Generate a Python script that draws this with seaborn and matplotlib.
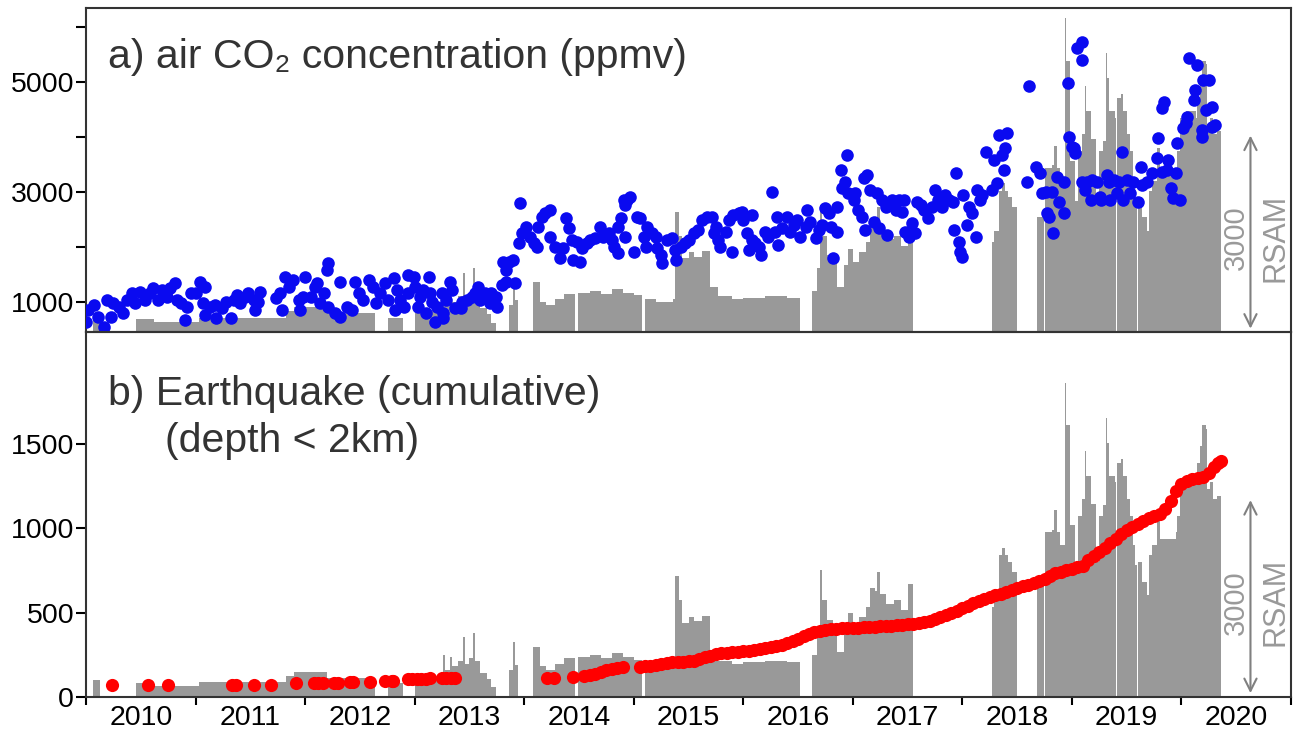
"""
Two-panel time series: air CO2 concentration and cumulative shallow
earthquakes, each drawn over the RSAM record (grey).
"""

import numpy as np
import matplotlib
matplotlib.use("Agg")
import matplotlib.pyplot as plt
import seaborn as sns

# ── Data ─────────────────────────────────────────────────
co2_year = [
    2010.00, 2010.02, 2010.07, 2010.11, 2010.16, 2010.19, 2010.23, 2010.25, 2010.30, 2010.34,
    2010.37, 2010.42, 2010.45, 2010.49, 2010.54, 2010.58, 2010.61, 2010.66, 2010.69, 2010.74,
    2010.77, 2010.81, 2010.83, 2010.87, 2010.90, 2010.92, 2010.96, 2011.00, 2011.04, 2011.09,
    2011.07, 2011.09, 2011.13, 2011.18, 2011.19, 2011.24, 2011.28, 2011.32, 2011.35, 2011.38,
    2011.41, 2011.45, 2011.48, 2011.53, 2011.54, 2011.59, 2011.57, 2011.73, 2011.77, 2011.79,
    2011.82, 2011.85, 2011.89, 2011.94, 2011.95, 2011.98, 2012.00, 2012.05, 2012.09, 2012.11,
    2012.14, 2012.17, 2012.21, 2012.20, 2012.21, 2012.27, 2012.32, 2012.32, 2012.38, 2012.43,
    2012.46, 2012.49, 2012.53, 2012.58, 2012.62, 2012.65, 2012.68, 2012.73, 2012.76, 2012.81,
    2012.82, 2012.84, 2012.87, 2012.90, 2012.94, 2012.94, 2012.99, 2013.00, 2013.05, 2013.03,
    2013.08, 2013.10, 2013.13, 2013.14, 2013.16, 2013.19, 2013.20, 2013.25, 2013.26, 2013.26,
    2013.29, 2013.32, 2013.34, 2013.37, 2013.42, 2013.43, 2013.48, 2013.52, 2013.55, 2013.58,
    2013.60, 2013.64, 2013.67, 2013.69, 2013.70, 2013.74, 2013.75, 2013.80, 2013.83, 2013.81,
    2013.86, 2013.90, 2013.92, 2013.83, 2013.96, 2013.95, 2013.98, 2014.02, 2014.05, 2014.09,
    2014.12, 2014.13, 2014.16, 2014.19, 2014.24, 2014.24, 2014.28, 2014.33, 2014.35, 2014.38,
    2014.41, 2014.44, 2014.45, 2014.48, 2014.51, 2014.53, 2014.57, 2014.60, 2014.65, 2014.69,
    2014.72, 2014.77, 2014.80, 2014.82, 2014.86, 2014.88, 2014.86, 2014.91, 2014.92, 2014.94,
    2014.97, 2014.92, 2015.00, 2015.03, 2015.06, 2015.09, 2015.11, 2015.12, 2015.17, 2015.20,
    2015.21, 2015.25, 2015.26, 2015.30, 2015.35, 2015.38, 2015.39, 2015.43, 2015.47, 2015.50,
    2015.55, 2015.59, 2015.62, 2015.67, 2015.71, 2015.75, 2015.73, 2015.77, 2015.79, 2015.84,
    2015.87, 2015.90, 2015.91, 2015.96, 2015.99, 2016.00, 2016.03, 2016.05, 2016.08, 2016.08,
    2016.11, 2016.14, 2016.16, 2016.20, 2016.23, 2016.26, 2016.29, 2016.31, 2016.32, 2016.35,
    2016.40, 2016.43, 2016.46, 2016.49, 2016.52, 2016.57, 2016.58, 2016.61, 2016.66, 2016.69,
    2016.72, 2016.75, 2016.78, 2016.80, 2016.82, 2016.86, 2016.86, 2016.89, 2016.90, 2016.93,
    2016.95, 2016.96, 2017.01, 2017.02, 2017.05, 2017.08, 2017.10, 2017.13, 2017.11, 2017.16,
    2017.19, 2017.22, 2017.24, 2017.27, 2017.30, 2017.31, 2017.36, 2017.39, 2017.42, 2017.45,
    2017.47, 2017.48, 2017.51, 2017.54, 2017.57, 2017.59, 2017.62, 2017.65, 2017.69, 2017.72,
    2017.75, 2017.78, 2017.81, 2017.84, 2017.88, 2017.91, 2017.92, 2017.94, 2017.97, 2017.98,
    2018.00, 2018.01, 2018.04, 2018.06, 2018.09, 2018.12, 2018.13, 2018.16, 2018.18, 2018.22,
    2018.27, 2018.29, 2018.32, 2018.33, 2018.36, 2018.38, 2018.39, 2018.41, 2018.61, 2018.59,
    2018.67, 2018.71, 2018.76, 2018.73, 2018.82, 2018.77, 2018.79, 2018.83, 2018.86, 2018.88,
    2018.93, 2018.93, 2018.96, 2018.97, 2019.00, 2019.03, 2019.02, 2019.05, 2019.09, 2019.09,
    2019.09, 2019.14, 2019.12, 2019.17, 2019.18, 2019.23, 2019.26, 2019.27, 2019.32, 2019.34,
    2019.35, 2019.38, 2019.41, 2019.43, 2019.46, 2019.47, 2019.50, 2019.53, 2019.56, 2019.60,
    2019.63, 2019.64, 2019.69, 2019.73, 2019.78, 2019.79, 2019.82, 2019.84, 2019.82, 2019.87,
    2019.88, 2019.90, 2019.92, 2019.95, 2019.96, 2019.99, 2020.01, 2020.04, 2020.05, 2020.07,
    2020.11, 2020.12, 2020.14, 2020.19, 2020.19, 2020.20, 2020.22, 2020.25, 2020.28, 2020.28,
    2020.31,
]
co2_ppmv = [
    642, 855, 945, 733, 552, 1036, 733, 976, 915, 794,
    1036, 1158, 976, 1188, 1036, 1158, 1248, 1036, 1218, 1097,
    1248, 1339, 1036, 976, 673, 915, 1158, 1158, 1370, 1279,
    976, 764, 915, 945, 703, 885, 1006, 703, 1036, 1127,
    976, 1097, 1158, 1036, 855, 1188, 1006, 1067, 1158, 855,
    1460, 1279, 1400, 1036, 855, 1097, 1460, 1097, 1279, 1339,
    976, 1158, 1703, 1582, 915, 794, 1370, 733, 915, 855,
    1370, 1158, 1036, 1400, 1279, 976, 1158, 1339, 1036, 1430,
    855, 1218, 1036, 915, 1158, 1491, 1460, 1279, 1097, 915,
    1218, 794, 1460, 1158, 1006, 642, 915, 1158, 794, 703,
    1036, 1370, 1218, 885, 885, 1006, 1036, 1097, 1158, 1279,
    1036, 1158, 1097, 976, 1158, 1097, 915, 1309, 1370, 1733,
    1733, 1764, 1339, 1582, 2794, 2067, 2248, 2370, 2188, 2067,
    2006, 2370, 2551, 2612, 2673, 2188, 2006, 1794, 1976, 2521,
    2339, 2127, 1764, 2097, 1733, 1976, 2067, 2127, 2158, 2370,
    2188, 2248, 2127, 2006, 1885, 2521, 2370, 2854, 2764, 2854,
    2915, 2188, 1915, 2551, 2521, 2188, 2006, 2370, 2248, 2188,
    1976, 1855, 1703, 2127, 2158, 1945, 1764, 2006, 2067, 2127,
    2248, 2309, 2491, 2551, 2551, 2370, 2248, 2127, 2006, 2279,
    2491, 1915, 2582, 2612, 2642, 2491, 2248, 1945, 2582, 2127,
    2067, 2006, 1855, 2279, 2188, 3006, 2279, 2551, 2036, 2339,
    2551, 2279, 2400, 2491, 2188, 2370, 2673, 2461, 2158, 2309,
    2400, 2703, 2612, 2370, 1794, 2279, 2733, 3400, 3067, 3188,
    3672, 2976, 2854, 2976, 2673, 2551, 3248, 3309, 2309, 3036,
    2461, 2976, 2339, 2854, 2733, 2218, 2854, 2673, 2854, 2642,
    2854, 2279, 2188, 2430, 2248, 2824, 2764, 2673, 2521, 2733,
    3036, 2854, 2733, 2945, 2854, 2824, 2309, 3339, 2097, 1915,
    1824, 2945, 2400, 2733, 2612, 2188, 3036, 2854, 2945, 3733,
    3036, 3582, 3158, 4036, 3672, 3400, 3794, 4067, 4927, 3188,
    3460, 3339, 3006, 2976, 3006, 2612, 2551, 2248, 3279, 2824,
    2612, 3188, 4975, 4006, 3824, 3703, 3794, 5612, 5733, 5400,
    3188, 3188, 3036, 2854, 3218, 3188, 2915, 2854, 3309, 3188,
    2854, 3218, 2976, 3188, 3733, 2854, 3218, 2976, 3188, 2824,
    3460, 3127, 3188, 3339, 3612, 3976, 4521, 4642, 3370, 3400,
    3582, 3067, 2885, 3339, 3885, 2854, 4158, 4248, 4370, 5430,
    4672, 4854, 5309, 4127, 4006, 5036, 4491, 5036, 4551, 4188,
    4218,
]

quake_year = [
    2010.24, 2010.57, 2010.75, 2011.33, 2011.37, 2011.53, 2011.69, 2011.92, 2012.08, 2012.12,
    2012.16, 2012.26, 2012.30, 2012.41, 2012.44, 2012.59, 2012.73, 2012.79, 2012.80, 2012.94,
    2012.98, 2013.02, 2013.06, 2013.10, 2013.14, 2013.25, 2013.29, 2013.33, 2013.37, 2014.21,
    2014.27, 2014.45, 2014.55, 2014.60, 2014.65, 2014.70, 2014.75, 2014.80, 2014.85, 2014.90,
    2015.06, 2015.10, 2015.15, 2015.20, 2015.25, 2015.30, 2015.35, 2015.40, 2015.45, 2015.50,
    2015.55, 2015.60, 2015.65, 2015.70, 2015.75, 2015.80, 2015.85, 2015.90, 2015.95, 2016.00,
    2016.05, 2016.10, 2016.15, 2016.20, 2016.25, 2016.30, 2016.35, 2016.40, 2016.45, 2016.50,
    2016.55, 2016.60, 2016.65, 2016.70, 2016.75, 2016.80, 2016.85, 2016.90, 2016.95, 2017.00,
    2017.05, 2017.10, 2017.15, 2017.20, 2017.25, 2017.30, 2017.35, 2017.40, 2017.45, 2017.50,
    2017.55, 2017.60, 2017.65, 2017.70, 2017.75, 2017.80, 2017.85, 2017.90, 2017.95, 2018.00,
    2018.05, 2018.10, 2018.15, 2018.20, 2018.25, 2018.30, 2018.35, 2018.40, 2018.45, 2018.50,
    2018.55, 2018.60, 2018.65, 2018.70, 2018.75, 2018.80, 2018.85, 2018.90, 2018.95, 2019.00,
    2019.05, 2019.10, 2019.15, 2019.20, 2019.25, 2019.30, 2019.35, 2019.40, 2019.45, 2019.50,
    2019.55, 2019.60, 2019.65, 2019.70, 2019.75, 2019.80, 2019.85, 2019.90, 2019.95, 2020.00,
    2020.05, 2020.10, 2020.15, 2020.20, 2020.25, 2020.30, 2020.33, 2020.36,
]
quake_count = [
    71, 71, 71, 71, 71, 71, 71, 81, 81, 81,
    81, 81, 81, 91, 91, 91, 95, 97, 97, 105,
    107, 107, 109, 109, 111, 111, 111, 111, 111, 111,
    111, 117, 127, 130, 137, 150, 162, 168, 174, 177,
    180, 183, 186, 192, 197, 203, 206, 207, 208, 213,
    216, 225, 236, 245, 252, 258, 262, 266, 269, 272,
    275, 278, 283, 288, 294, 302, 310, 320, 332, 345,
    360, 375, 385, 392, 398, 402, 405, 406, 407, 408,
    410, 412, 413, 415, 418, 420, 422, 425, 428, 430,
    433, 437, 443, 450, 460, 472, 485, 498, 510, 525,
    540, 556, 570, 583, 595, 604, 613, 622, 634, 646,
    656, 666, 676, 688, 702, 718, 732, 742, 752, 760,
    768, 778, 810, 838, 862, 885, 910, 938, 965, 990,
    1010, 1028, 1045, 1058, 1072, 1085, 1112, 1160, 1220, 1260,
    1280, 1290, 1298, 1305, 1325, 1362, 1385, 1397,
]

# RSAM record, each value holds until the next time stamp (0 = no data)
rsam_year = [
    2010.00, 2010.06, 2010.13, 2010.46, 2010.62, 2011.03, 2011.83, 2011.90, 2012.20, 2012.64,
    2012.76, 2012.89, 2013.00, 2013.15, 2013.24, 2013.26, 2013.28, 2013.32, 2013.34, 2013.40,
    2013.44, 2013.46, 2013.50, 2013.53, 2013.55, 2013.60, 2013.66, 2013.70, 2013.74, 2013.86,
    2013.90, 2013.92, 2013.94, 2014.08, 2014.14, 2014.20, 2014.28, 2014.36, 2014.46, 2014.49,
    2014.60, 2014.70, 2014.80, 2014.90, 2015.00, 2015.08, 2015.10, 2015.20, 2015.36, 2015.38,
    2015.41, 2015.44, 2015.50, 2015.55, 2015.62, 2015.70, 2015.77, 2015.90, 2016.00, 2016.20,
    2016.40, 2016.52, 2016.63, 2016.67, 2016.70, 2016.72, 2016.76, 2016.82, 2016.86, 2016.92,
    2016.96, 2017.00, 2017.06, 2017.12, 2017.16, 2017.20, 2017.22, 2017.25, 2017.30, 2017.38,
    2017.44, 2017.50, 2017.55, 2018.27, 2018.29, 2018.33, 2018.36, 2018.39, 2018.42, 2018.45,
    2018.50, 2018.68, 2018.745, 2018.755, 2018.82, 2018.84, 2018.86, 2018.89, 2018.935, 2018.95,
    2018.98, 2019.03, 2019.06, 2019.09, 2019.12, 2019.13, 2019.17, 2019.22, 2019.25, 2019.28,
    2019.31, 2019.32, 2019.34, 2019.39, 2019.40, 2019.41, 2019.45, 2019.47, 2019.50, 2019.53,
    2019.56, 2019.58, 2019.59, 2019.60, 2019.64, 2019.69, 2019.70, 2019.73, 2019.78, 2019.80,
    2019.95, 2019.96, 2019.99, 2020.04, 2020.13, 2020.14, 2020.17, 2020.19, 2020.22, 2020.23,
    2020.26, 2020.29, 2020.32, 2020.36,
]
rsam_value = [
    0, 264, 0, 210, 170, 230, 330, 390, 300, 0,
    220, 0, 300, 330, 380, 660, 420, 620, 480, 560,
    930, 520, 600, 1000, 560, 380, 280, 150, 0, 420,
    850, 500, 0, 780, 480, 420, 520, 600, 0, 620,
    650, 600, 680, 620, 580, 0, 520, 480, 520, 1880,
    1500, 1150, 1250, 1180, 1260, 700, 560, 520, 540, 560,
    540, 0, 650, 1000, 1980, 1500, 1200, 1100, 700, 1050,
    1300, 1100, 1250, 1400, 1700, 1650, 1950, 1600, 1450, 1500,
    1350, 1750, 0, 1400, 1580, 2200, 2320, 2200, 2100, 1950,
    0, 1790, 0, 2560, 2600, 2900, 2560, 2360, 4880, 4220,
    2670, 2050, 2820, 3080, 3830, 3440, 3000, 2100, 2820, 2980,
    4340, 3950, 3440, 3340, 0, 3640, 3700, 3440, 3080, 2820,
    2360, 2050, 0, 2100, 1790, 1580, 2200, 2360, 2870, 2460,
    2560, 2820, 3340, 3440, 3340, 3640, 3900, 4220, 4170, 3240,
    3340, 3080, 3130, 0,
]

co2_ticks = [1000, 2000, 3000, 4000, 5000, 6000]
co2_ticklabels = ["1000", "", "3000", "", "5000", ""]
quake_ticks = [0, 500, 1000, 1500]
year_edges = list(range(2010, 2022))
year_labels = [str(y) for y in range(2010, 2021)]

# ── Style ────────────────────────────────────────────────
sns.set_style("white")
plt.rcParams["font.family"] = ["Liberation Sans", "DejaVu Sans"]

GREY = "#999999"
BLUE = "#0a0af0"
RED = "#ff0000"
INK = "#333333"
TXT = 29.5
TICK = 20.5

fig = plt.figure(figsize=(12.95, 7.35), dpi=100)
left, width = 86 / 1295, 1205 / 1295
ax1 = fig.add_axes([left, 1 - 332.5 / 735, width, 324.5 / 735])
ax2 = fig.add_axes([left, 1 - 697 / 735, width, 364.5 / 735])


def rsam_layer(ax, top):
    tw = ax.twinx()
    tw.fill_between(rsam_year, rsam_value, step="post", color=GREY, lw=0)
    tw.set_ylim(0, top)
    tw.axis("off")
    tw.annotate("", xy=(2020.63, 3060), xytext=(2020.63, 60),
                arrowprops=dict(arrowstyle="<->", color="#808080", lw=1.5,
                                mutation_scale=22, shrinkA=0, shrinkB=0))
    tw.text(2020.50, 1470, "3000", rotation=90, ha="center", va="center",
            fontsize=21, color=GREY)
    tw.text(2020.86, 1470, "RSAM", rotation=90, ha="center", va="center",
            fontsize=22, color=GREY)
    ax.set_zorder(tw.get_zorder() + 1)
    ax.patch.set_visible(False)
    return tw


for ax in (ax1, ax2):
    for sp in ax.spines.values():
        sp.set_color(INK)
        sp.set_linewidth(1.5)
    ax.set_xlim(2010, 2021)

# ── a) CO2 ───────────────────────────────────────────────
rsam_layer(ax1, 324.5 * 15.54)
sns.scatterplot(x=co2_year, y=co2_ppmv, ax=ax1, color=BLUE, s=82,
                linewidth=0, zorder=3)
ax1.set_ylim(445, 6345)
ax1.set_xticks([])
ax1.set_yticks(co2_ticks)
ax1.set_yticklabels(co2_ticklabels)
ax1.tick_params(axis="y", left=True, length=7, width=1.5, color="black",
                pad=1.5, labelsize=TICK, labelcolor="black")
ax1.text(0.0183, 0.815, "a) air CO₂ concentration (ppmv)", transform=ax1.transAxes,
         fontsize=TXT, color=INK, va="baseline")

# ── b) Earthquakes ───────────────────────────────────────
rsam_layer(ax2, 364.5 * 15.54)
sns.scatterplot(x=quake_year, y=quake_count, ax=ax2, color=RED, s=90,
                linewidth=0, zorder=3)
ax2.set_ylim(0, 2160)
ax2.set_yticks(quake_ticks)
ax2.tick_params(axis="y", left=True, length=7, width=1.5, color="black",
                pad=1.5, labelsize=TICK, labelcolor="black")
ax2.set_xticks(year_edges)
ax2.set_xticklabels([""] * len(year_edges))
ax2.set_xticks([y + 0.5 for y in range(2010, 2021)], minor=True)
ax2.set_xticklabels(year_labels, minor=True)
ax2.tick_params(axis="x", which="major", bottom=True, length=6, width=1.5,
                color="black")
ax2.tick_params(axis="x", which="minor", bottom=True, length=0, pad=6,
                labelsize=TICK, labelcolor="black")
ax2.text(0.0183, 0.80, "b) Earthquake (cumulative)", transform=ax2.transAxes,
         fontsize=TXT, color=INK, va="baseline")
ax2.text(0.0656, 0.673, "(depth < 2km)", transform=ax2.transAxes,
         fontsize=TXT, color=INK, va="baseline")
ax1.set_xlabel("")
ax2.set_xlabel("")

fig.savefig("out.png", dpi=100)
